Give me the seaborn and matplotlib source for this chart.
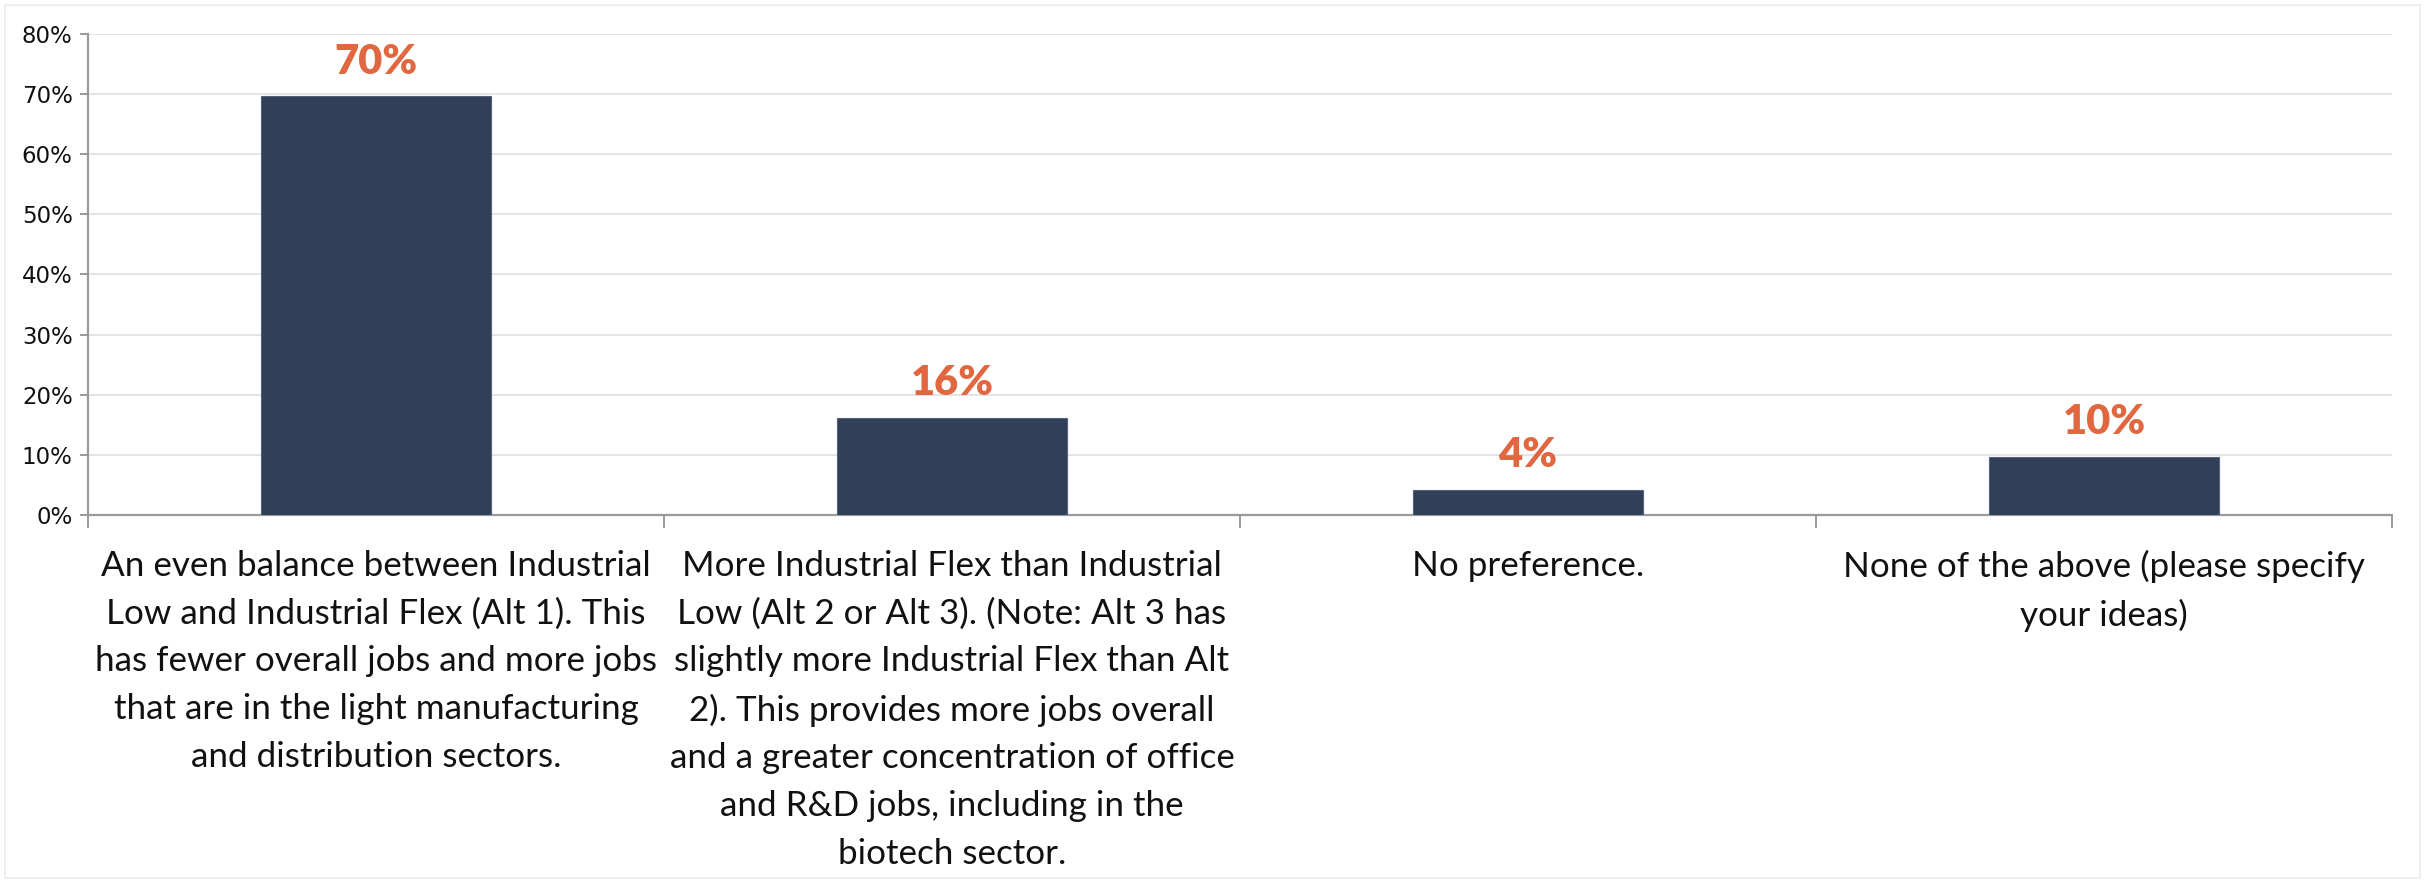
import matplotlib
matplotlib.use("Agg")
import matplotlib.pyplot as plt
import seaborn as sns
import pandas as pd
from matplotlib.patches import Rectangle
from matplotlib.ticker import FixedLocator, FuncFormatter

# Survey responses: share of respondents choosing each option (percent)
categories = [
    "An even balance between Industrial\nLow and Industrial Flex (Alt 1). This\nhas fewer overall jobs and more jobs\nthat are in the light manufacturing\nand distribution sectors.",
    "More Industrial Flex than Industrial\nLow (Alt 2 or Alt 3). (Note: Alt 3 has\nslightly more Industrial Flex than Alt\n2). This provides more jobs overall\nand a greater concentration of office\nand R&D jobs, including in the\nbiotech sector.",
    "No preference.",
    "None of the above (please specify\nyour ideas)",
]
shares = [69.6, 16.2, 4.2, 9.7]
y_ticks = [0, 10, 20, 30, 40, 50, 60, 70, 80]

df = pd.DataFrame({"option": categories, "share": shares})

sns.set_theme(style="white")
plt.rcParams["font.family"] = ["DejaVu Sans"]

BAR = "#323F59"
LABEL = "#E0673F"
AXIS = "#9a9a9a"
GRID = "#e4e4e4"

fig = plt.figure(figsize=(24.25, 8.82), dpi=100)
ax = fig.add_axes([0.0363, 0.4161, 0.9501, 0.5454])

sns.barplot(data=df, x="option", y="share", color=BAR, width=0.40,
            saturation=1, edgecolor="#56607a", linewidth=0.8, ax=ax, zorder=3)

ax.set_xlim(-0.5, len(categories) - 0.5)
ax.set_ylim(0, 80)
ax.yaxis.set_major_locator(FixedLocator(y_ticks))
ax.yaxis.set_major_formatter(FuncFormatter(lambda v, _: f"{v:.0f}%"))
ax.grid(axis="y", color=GRID, linewidth=1.4, zorder=0)
ax.grid(axis="x", visible=False)
ax.set_xlabel("")
ax.set_ylabel("")

for side in ("top", "right"):
    ax.spines[side].set_visible(False)
for side in ("left", "bottom"):
    ax.spines[side].set_color(AXIS)
    ax.spines[side].set_linewidth(1.6)

ax.tick_params(axis="y", which="major", length=6, width=1.4, color=AXIS,
               labelsize=16.5, labelcolor="#111111", pad=5, left=True)

# category labels centred under bars, dividers between categories
ax.set_xticks(range(len(categories)))
ax.set_xticklabels(categories, fontfamily="Lato", fontsize=25.2,
                   color="#111111", linespacing=1.6, ha="center", va="top")
ax.tick_params(axis="x", which="major", length=0, pad=25)
ax.set_xticks([i - 0.5 for i in range(len(categories) + 1)], minor=True)
ax.tick_params(axis="x", which="minor", length=9, width=1.4, color=AXIS,
               bottom=True, direction="out")

# value labels above each bar
for i, v in enumerate(shares):
    ax.annotate(f"{v:.0f}%", xy=(i, v), xytext=(0, 16.5), textcoords="offset points",
                ha="center", va="baseline", fontsize=30, fontweight="heavy",
                fontfamily="Lato", color=LABEL, zorder=4)

# light frame around the figure
fig.patches.append(Rectangle((0.002, 0.004), 0.996, 0.990, transform=fig.transFigure,
                             fill=False, edgecolor="#ececec", linewidth=1.2))

fig.savefig("out.png", dpi=100, facecolor="white")
